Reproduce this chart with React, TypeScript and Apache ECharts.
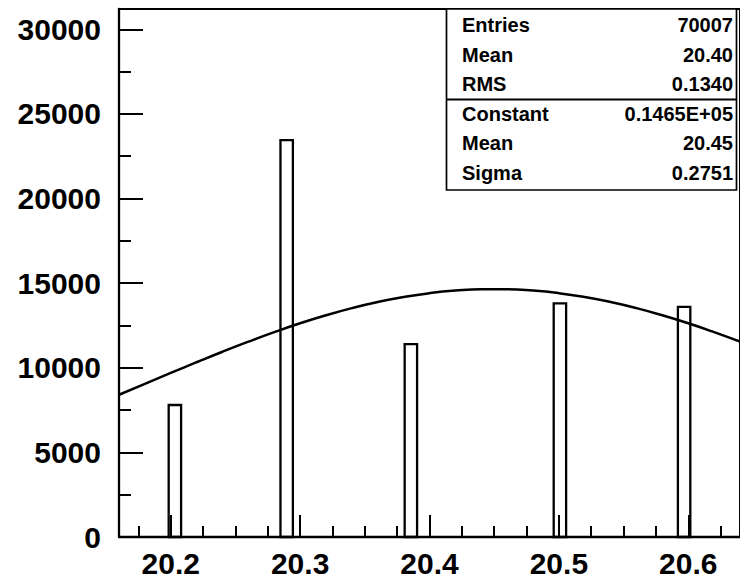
import React, { useEffect, useRef } from "react";
import * as echarts from "echarts";

// Histogram bins (bin centres) and contents
const binCenters = [20.2032, 20.2896, 20.3856, 20.5008, 20.5968];
const binCounts = [7800, 23450, 11400, 13800, 13600];
const binWidth = 0.0096;

// Fitted gaussian curve
const fitX = [20.16, 20.18, 20.2, 20.22, 20.24, 20.26, 20.28, 20.3, 20.32, 20.34, 20.36, 20.38, 20.4, 20.42, 20.44, 20.46, 20.48, 20.5, 20.52, 20.54, 20.56, 20.58, 20.6, 20.62, 20.64];
const fitY = [8405, 9051, 9694, 10328, 10948, 11541, 12104, 12627, 13102, 13525, 13887, 14183, 14410, 14563, 14640, 14640, 14563, 14410, 14183, 13887, 13525, 13102, 12627, 12104, 11541];

// Axis ticks
const xMajorTicks = [20.2, 20.3, 20.4, 20.5, 20.6];
const xMinorTicks = [20.175, 20.225, 20.25, 20.275, 20.325, 20.35, 20.375, 20.425, 20.45, 20.475, 20.525, 20.55, 20.575, 20.625];
const yMajorTicks = [0, 5000, 10000, 15000, 20000, 25000, 30000];
const yMinorTicks = [2500, 7500, 12500, 17500, 22500, 27500];

// Statistics box
const statLabels = ["Entries", "Mean", "RMS", "Constant", "Mean", "Sigma"];
const statValues = ["70007", "20.40", "0.1340", "0.1465E+05", "20.45", "0.2751"];

const FONT = "'Liberation Sans', Arial, Helvetica, sans-serif";

export default function App() {
  const ref = useRef<HTMLDivElement>(null);

  useEffect(() => {
    if (!ref.current) return;
    const chart = echarts.init(ref.current, undefined, { renderer: "svg" });

    const rowY = [25, 54.5, 84, 113.5, 143, 172.5];
    const statGraphics: any[] = [
      {
        type: "rect",
        shape: { x: 446.5, y: 9, width: 290, height: 181 },
        style: { fill: "#fff", stroke: "#000", lineWidth: 1.7 },
        z: 100,
      },
      {
        type: "line",
        shape: { x1: 446.5, y1: 99.5, x2: 736.5, y2: 99.5 },
        style: { stroke: "#000", lineWidth: 2 },
        z: 101,
      },
    ];
    statLabels.forEach((lab, i) => {
      statGraphics.push({
        type: "text",
        x: 462,
        y: rowY[i],
        style: {
          text: lab,
          font: `bold 20px ${FONT}`,
          fill: "#000",
          align: "left",
          verticalAlign: "middle",
        },
        z: 102,
      });
      statGraphics.push({
        type: "text",
        x: 733,
        y: rowY[i],
        style: {
          text: statValues[i],
          font: `bold 20px ${FONT}`,
          fill: "#000",
          align: "right",
          verticalAlign: "middle",
        },
        z: 102,
      });
    });

    const labelStyle = {
      fontFamily: FONT,
      fontWeight: "bold" as const,
      fontSize: 30,
      color: "#000",
    };

    const option: any = {
      animation: false,
      backgroundColor: "#fff",
      grid: {
        left: 119,
        top: 9,
        right: -10,
        bottom: 44,
        show: true,
        borderColor: "#000",
        borderWidth: 2,
        backgroundColor: "transparent",
      },
      xAxis: [
        {
          type: "value",
          min: 20.16,
          max: 20.64,
          position: "bottom",
          axisLine: { show: true, onZero: false, lineStyle: { color: "#000", width: 2.3 } },
          axisTick: {
            show: true,
            inside: true,
            length: 22,
            customValues: xMajorTicks,
            lineStyle: { color: "#000", width: 2 },
          },
          axisLabel: {
            show: true,
            customValues: xMajorTicks,
            margin: 11,
            formatter: (v: number) => v.toFixed(1),
            ...labelStyle,
          },
          splitLine: { show: false },
        },
        {
          type: "value",
          min: 20.16,
          max: 20.64,
          position: "bottom",
          axisLine: { show: false, onZero: false },
          axisTick: {
            show: true,
            inside: true,
            length: 11,
            customValues: xMinorTicks,
            lineStyle: { color: "#000", width: 2 },
          },
          axisLabel: { show: false },
          splitLine: { show: false },
        },
      ],
      yAxis: [
        {
          type: "value",
          min: 0,
          max: 31200,
          position: "left",
          axisLine: { show: true, onZero: false, lineStyle: { color: "#000", width: 2.3 } },
          axisTick: {
            show: true,
            inside: true,
            length: 24,
            customValues: yMajorTicks,
            lineStyle: { color: "#000", width: 2 },
          },
          axisLabel: {
            show: true,
            customValues: yMajorTicks,
            margin: 18,
            formatter: (v: number) => String(v),
            ...labelStyle,
          },
          splitLine: { show: false },
        },
        {
          type: "value",
          min: 0,
          max: 31200,
          position: "left",
          axisLine: { show: false, onZero: false },
          axisTick: {
            show: true,
            inside: true,
            length: 12,
            customValues: yMinorTicks,
            lineStyle: { color: "#000", width: 2 },
          },
          axisLabel: { show: false },
          splitLine: { show: false },
        },
      ],
      series: [
        {
          type: "custom",
          xAxisIndex: 0,
          yAxisIndex: 0,
          data: binCenters.map((c, i) => [c, binCounts[i]]),
          renderItem: (params: any, api: any) => {
            const x = api.value(0);
            const y = api.value(1);
            const p0 = api.coord([x - binWidth / 2, y]);
            const p1 = api.coord([x + binWidth / 2, 0]);
            return {
              type: "rect",
              shape: { x: p0[0], y: p0[1], width: p1[0] - p0[0], height: p1[1] - p0[1] },
              style: { fill: "none", stroke: "#000", lineWidth: 2.3 },
            };
          },
          z: 5,
        },
        {
          type: "line",
          xAxisIndex: 0,
          yAxisIndex: 0,
          data: fitX.map((x, i) => [x, fitY[i]]),
          smooth: true,
          symbol: "none",
          lineStyle: { color: "#000", width: 2.5 },
          z: 6,
        },
      ],
      graphic: statGraphics,
    };

    chart.setOption(option);
    return () => chart.dispose();
  }, []);

  return (
    <div
      ref={ref}
      style={{ position: "absolute", left: 0, top: 0, width: 740, height: 581, background: "#fff" }}
    />
  );
}
